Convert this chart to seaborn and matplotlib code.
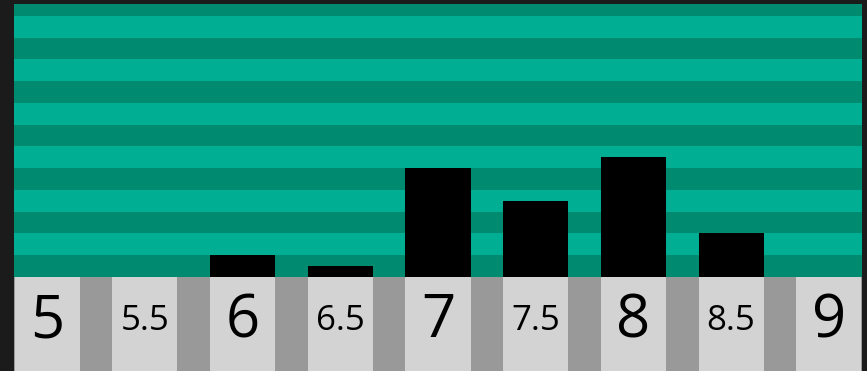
import matplotlib
matplotlib.use("Agg")
import matplotlib.pyplot as plt
import seaborn as sns
import pandas as pd

categories = ["5", "5.5", "6", "6.5", "7", "7.5", "8", "8.5", "9"]
values = [0, 0, 1, 0.5, 5, 3.5, 5.5, 2, 0]
label_sizes = [43 if "." not in c else 25 for c in categories]

df = pd.DataFrame({"cat": categories, "val": values})

W, H = 867, 371
fig = plt.figure(figsize=(W / 100, H / 100), dpi=100, facecolor="#1b1b1b")

top_px, split_px, left_px, right_px = 4, 276.7, 14, 862
ax = fig.add_axes([left_px / W, (H - split_px) / H, (right_px - left_px) / W, (split_px - top_px) / H])
ax2 = fig.add_axes([left_px / W, 0, (right_px - left_px) / W, (H - split_px) / H])

ymax = 12.55
light, dark = "#00ae94", "#008a70"
ax.set_facecolor(light)
k = 0
while k < ymax:
    ax.axhspan(k, k + 1, color=dark if k % 2 == 0 else light, lw=0, zorder=0)
    k += 1

sns.barplot(data=df, x="cat", y="val", order=categories, color="black", saturation=1,
            width=0.667, ax=ax, zorder=2, linewidth=0)
ax.set_xlim(-0.34, len(categories) - 1 + 0.34)
ax.set_ylim(0, ymax)
ax.axis("off")

df2 = pd.DataFrame({"cat": categories, "val": [1] * len(categories)})
ax2.set_facecolor("#999999")
sns.barplot(data=df2, x="cat", y="val", order=categories, color="#d3d3d3", saturation=1,
            width=0.667, ax=ax2, linewidth=0)
ax2.set_xlim(-0.34, len(categories) - 1 + 0.34)
ax2.set_ylim(0, 1)
for i, (c, s) in enumerate(zip(categories, label_sizes)):
    ax2.text(i, 0.53, c, ha="center", va="center", fontsize=s, family="Open Sans", color="black")
ax2.set_xticks([]); ax2.set_yticks([])
ax2.set_xlabel(""); ax2.set_ylabel("")
for sp in ax2.spines.values():
    sp.set_visible(False)

fig.savefig("out.png", dpi=100, facecolor=fig.get_facecolor())
